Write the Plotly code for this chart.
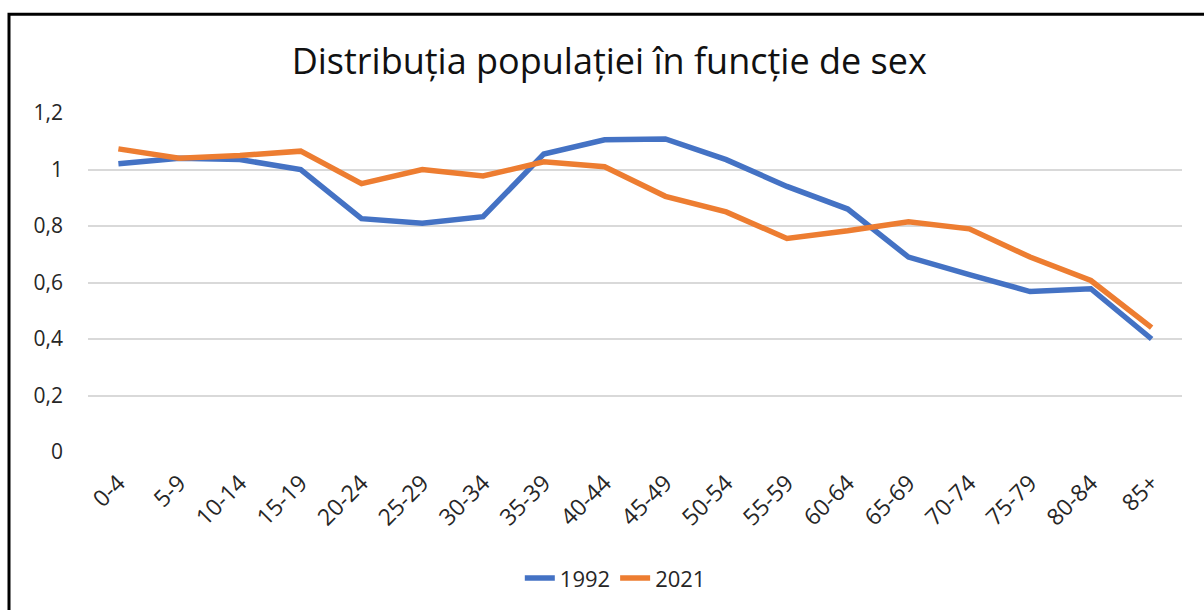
import plotly.graph_objects as go

# Age groups and population sex ratio per group
age_groups = ["0-4", "5-9", "10-14", "15-19", "20-24", "25-29", "30-34", "35-39",
              "40-44", "45-49", "50-54", "55-59", "60-64", "65-69", "70-74",
              "75-79", "80-84", "85+"]
ratio_1992 = [1.02, 1.04, 1.035, 1.0, 0.826, 0.81, 0.833, 1.055, 1.105, 1.108,
              1.035, 0.94, 0.86, 0.69, 0.628, 0.568, 0.578, 0.40]
ratio_2021 = [1.073, 1.04, 1.05, 1.065, 0.95, 1.0, 0.977, 1.027, 1.01, 0.905,
              0.85, 0.756, 0.783, 0.815, 0.79, 0.69, 0.607, 0.44]
y_ticks = [0, 0.2, 0.4, 0.6, 0.8, 1.0, 1.2]

FONT = "Open Sans"
TEXT = "#262626"

fig = go.Figure()
fig.add_trace(go.Scatter(x=age_groups, y=ratio_1992, name="1992", mode="lines",
                         line=dict(color="#4472C4", width=5.5)))
fig.add_trace(go.Scatter(x=age_groups, y=ratio_2021, name="2021", mode="lines",
                         line=dict(color="#ED7D31", width=5.5)))

fig.update_layout(
    width=1204, height=610,
    margin=dict(l=88, r=22, t=113, b=157),
    paper_bgcolor="white", plot_bgcolor="white",
    separators=", ",
    font=dict(family=FONT, size=21, color=TEXT),
    title=dict(text="Distribuția populației în funcție de sex",
               x=0.506, xanchor="center", y=0.9, yanchor="middle",
               font=dict(family=FONT, size=36, color="#111111")),
    showlegend=True,
    legend=dict(orientation="h", x=0.482, xanchor="center", y=-0.368,
                yanchor="middle", font=dict(size=22, color=TEXT),
                bgcolor="rgba(0,0,0,0)"),
    xaxis=dict(type="category", range=[-0.5, 17.5], tickangle=-45,
               showgrid=False, showline=False, ticks="", zeroline=False,
               ticklabelstandoff=12,
               tickfont=dict(size=23, color=TEXT)),
    yaxis=dict(range=[0, 1.2], tickvals=y_ticks, showgrid=True,
               gridcolor="#d9d9d9", gridwidth=2, zeroline=False,
               showline=False, ticks="", ticklabelstandoff=24,
               tickfont=dict(size=21, color=TEXT)),
    shapes=[dict(type="rect", xref="paper", yref="paper",
                 x0=(9 - 88) / 1094, x1=1.1, y0=-0.6, y1=(453 - 14) / 340,
                 line=dict(color="black", width=3), layer="above")],
)

fig.write_html("out.html")
